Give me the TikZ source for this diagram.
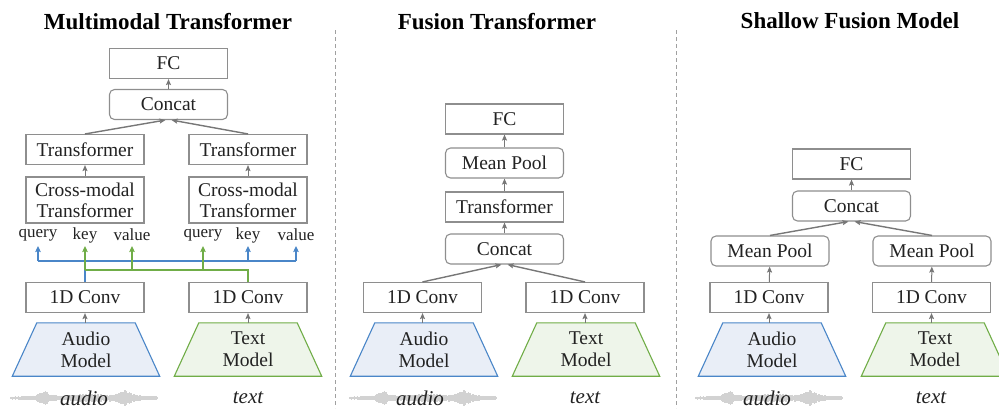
\documentclass[tikz,border=0pt]{standalone}
\usepackage{fontspec}
\setmainfont{Liberation Serif}
\usetikzlibrary{arrows.meta}

\definecolor{boxline}{HTML}{8E8E8E}
\definecolor{arrowgray}{HTML}{777777}
\definecolor{audioblue}{HTML}{4A86C8}
\definecolor{audiofill}{HTML}{E9EEF7}
\definecolor{textgreen}{HTML}{70AD47}
\definecolor{textfill}{HTML}{EEF5EA}
\definecolor{sepgray}{HTML}{A0A0A0}
\definecolor{wavegray}{HTML}{D2D2D2}
\definecolor{ink}{HTML}{222222}

% gray waveform drawn behind the word "audio": start x, y
\newcommand{\drawwave}[2]{%
  \draw[wavegray, line width=1.4pt] (#1,#2) -- (#1+147,#2);
  \foreach \i in {0,1.5,...,146}{
    \pgfmathsetmacro\wamp{1.2
      + 6/(1+((\i-33)/5)^2)*(0.5+0.5*abs(sin(\i*97)))
      + 3/(1+((\i-78)/18)^2)*(0.4+0.6*abs(sin(\i*61)))
      + 6/(1+((\i-114)/7)^2)*(0.5+0.5*abs(sin(\i*83)))}
    \draw[wavegray, line width=1.2pt] (#1+\i,#2-\wamp) -- (#1+\i,#2+\wamp);
  }%
}

% trapezoid outline around a model node: node name, line colour, fill colour
\newcommand{\modelshape}[3]{%
  \filldraw[draw=#2, fill=#3, line width=1.1pt]
    (#1.south west) -- (#1.south east)
    -- ([xshift=-24.5pt]#1.north east) -- ([xshift=24.5pt]#1.north west)
    -- cycle;
}

\begin{document}
\begin{tikzpicture}[x=1pt,y=-1pt,
  blk/.style={draw=boxline, line width=1.1pt, minimum width=118pt,
    minimum height=30pt, inner sep=0pt, text=ink,
    font=\fontsize{19.5}{21}\selectfont},
  rblk/.style={blk, rounded corners=5pt},
  tallblk/.style={blk, minimum height=46pt, align=center,
    font=\fontsize{19.5}{21}\selectfont},
  model/.style={minimum width=147pt, minimum height=53pt, inner sep=0pt,
    align=center, text=ink, font=\fontsize{19.5}{22}\selectfont},
  title/.style={font=\fontsize{23}{26}\selectfont\bfseries, text=black},
  qkv/.style={font=\fontsize{17}{19}\selectfont, text=ink, inner sep=0pt},
  inlabel/.style={font=\fontsize{21}{23}\selectfont\itshape, text=ink, inner sep=0pt},
  arr/.style={draw=arrowgray, line width=1pt,
    -{Stealth[length=6pt,width=5pt,inset=1pt]}},
  merge/.style={arr, line width=1.4pt},
  bus/.style={line width=1.3pt},
  busarr/.style={bus, -{Stealth[length=6pt,width=5.5pt,inset=1pt]}},
  sep/.style={draw=sepgray, line width=1pt, dash pattern=on 4pt off 3pt}
]
\useasboundingbox (0,0) rectangle (999,408);

% ---------- panel separators ----------
\coordinate (s1t) at (335,30); \coordinate (s1b) at (335,408);
\coordinate (s2t) at (676,30); \coordinate (s2b) at (676,408);
\draw[sep] (s1t) -- (s1b);
\draw[sep] (s2t) -- (s2b);

% ---------- Multimodal Transformer ----------
\node[title] (t1) at (168,22) {Multimodal Transformer};
\node[blk]  (fc1) at (168.5,63.5) {FC};
\node[rblk] (cat1) at (168.5,104.5) {Concat};
\node[blk]  (trL) at (85,149.5) {Transformer};
\node[blk]  (trR) at (248,149.5) {Transformer};
\node[tallblk] (cmL) at (85,200) {Cross-modal\\Transformer};
\node[tallblk] (cmR) at (248,200) {Cross-modal\\Transformer};
\node[qkv] (q1) at (38,235) {query};
\node[qkv] (k1) at (85,235) {key};
\node[qkv] (v1) at (132,235) {value};
\node[qkv] (q2) at (203,235) {query};
\node[qkv] (k2) at (248,235) {key};
\node[qkv] (v2) at (296,235) {value};
\node[blk] (cvL1) at (85,297.5) {1D Conv};
\node[blk] (cvR1) at (248,297.5) {1D Conv};
\node[model] (am1) at (86,349.5) {};
\node[model] (tm1) at (248,349.5) {};
\modelshape{am1}{audioblue}{audiofill}
\modelshape{tm1}{textgreen}{textfill}
\node[model] at (am1) {Audio\\Model};
\node[model] at (tm1) {Text\\Model};
\drawwave{11}{398}
\node[inlabel] (ai1) at (84,398) {audio};
\node[inlabel] (ti1) at (248,398) {text};

\coordinate (tip) at (0,246);
\coordinate (busB) at (0,261);
\coordinate (busG) at (0,270);

\draw[arr] (am1.north -| cvL1) -- (cvL1);
\draw[arr] (tm1) -- (cvR1);
% audio features: query of the left block, key/value of the right block
\draw[bus, audioblue] (cvL1.north) -- (cvL1.north |- busB);
\draw[bus, audioblue] (q1 |- busB) -- (v2 |- busB);
\draw[busarr, audioblue] (q1 |- busB) -- (q1 |- tip);
\draw[busarr, audioblue] (k2 |- busB) -- (k2 |- tip);
\draw[busarr, audioblue] (v2 |- busB) -- (v2 |- tip);
% text features: key/value of the left block, query of the right block
\draw[bus, textgreen] (cvR1.north) -- (cvR1.north |- busG) -- (k1 |- busG);
\draw[busarr, textgreen] (k1 |- busG) -- (k1 |- tip);
\draw[busarr, textgreen] (v1 |- busG) -- (v1 |- tip);
\draw[busarr, textgreen] (q2 |- busG) -- (q2 |- tip);

\draw[arr] (cmL) -- (trL);
\draw[arr] (cmR) -- (trR);
\draw[merge] (trL.north) -- ([xshift=-3pt]cat1.south);
\draw[merge] (trR.north) -- ([xshift=3pt]cat1.south);
\draw[arr] (cat1) -- (fc1);

% ---------- Fusion Transformer ----------
\node[title] (t2) at (497,22) {Fusion Transformer};
\node[blk]  (fc2) at (504.5,119) {FC};
\node[rblk] (mp2) at (504.5,163) {Mean Pool};
\node[blk]  (tr2) at (504.5,207) {Transformer};
\node[rblk] (cat2) at (504.5,249) {Concat};
\node[blk] (cvL2) at (422.5,297.5) {1D Conv};
\node[blk] (cvR2) at (585,297.5) {1D Conv};
\node[model] (am2) at (424,349.5) {};
\node[model] (tm2) at (586,349.5) {};
\modelshape{am2}{audioblue}{audiofill}
\modelshape{tm2}{textgreen}{textfill}
\node[model] at (am2) {Audio\\Model};
\node[model] at (tm2) {Text\\Model};
\drawwave{350}{398}
\node[inlabel] (ai2) at (420,398) {audio};
\node[inlabel] (ti2) at (585,398) {text};

\draw[arr] (am2.north -| cvL2) -- (cvL2);
\draw[arr] (tm2.north -| cvR2) -- (cvR2);
\draw[merge] (cvL2.north) -- ([xshift=-3pt]cat2.south);
\draw[merge] (cvR2.north) -- ([xshift=3pt]cat2.south);
\draw[arr] (cat2) -- (tr2);
\draw[arr] (tr2) -- (mp2);
\draw[arr] (mp2) -- (fc2);

% ---------- Shallow Fusion Model ----------
\node[title] (t3) at (850,21) {Shallow Fusion Model};
\node[blk]  (fc3) at (851.5,164) {FC};
\node[rblk] (cat3) at (851.5,206) {Concat};
\node[rblk] (mpL3) at (770,251) {Mean Pool};
\node[rblk] (mpR3) at (932,251) {Mean Pool};
\node[blk] (cvL3) at (769,297.5) {1D Conv};
\node[blk] (cvR3) at (931.5,297.5) {1D Conv};
\node[model] (am3) at (772,349.5) {};
\node[model] (tm3) at (935,349.5) {};
\modelshape{am3}{audioblue}{audiofill}
\modelshape{tm3}{textgreen}{textfill}
\node[model] at (am3) {Audio\\Model};
\node[model] at (tm3) {Text\\Model};
\drawwave{696}{398}
\node[inlabel] (ai3) at (767,398) {audio};
\node[inlabel] (ti3) at (931,398) {text};

\draw[arr] (am3.north -| cvL3) -- (cvL3);
\draw[arr] (tm3.north -| cvR3) -- (cvR3);
\draw[arr] (cvL3) -- (mpL3);
\draw[arr] (cvR3) -- (mpR3);
\draw[merge] (mpL3.north) -- ([xshift=-3pt]cat3.south);
\draw[merge] (mpR3.north) -- ([xshift=3pt]cat3.south);
\draw[arr] (cat3) -- (fc3);
\end{tikzpicture}
\end{document}
